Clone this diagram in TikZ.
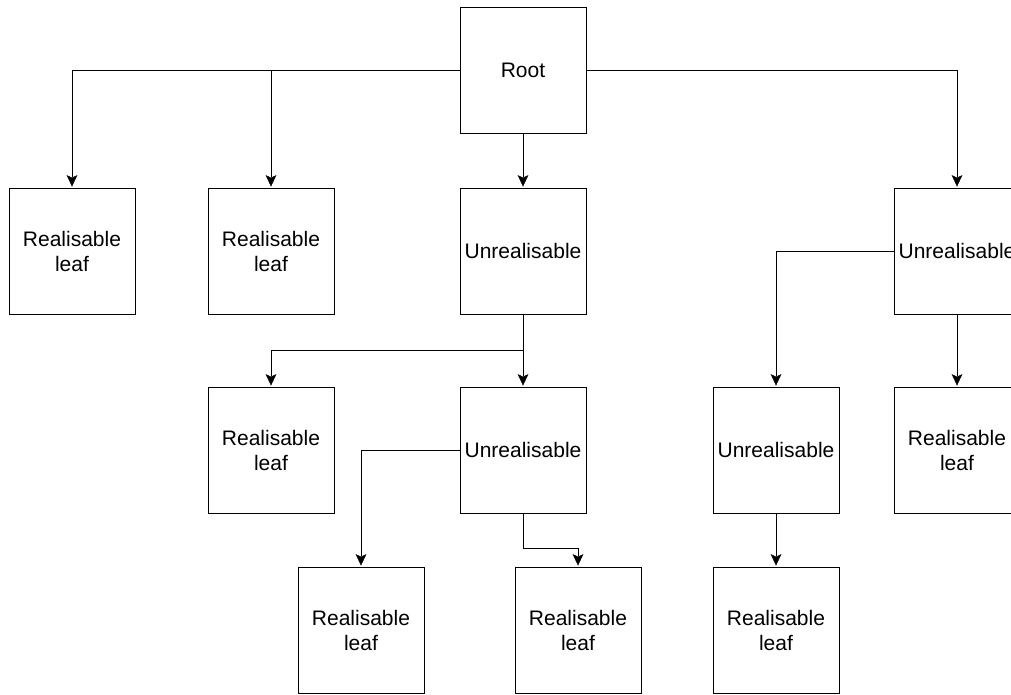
\documentclass[tikz,border=0pt]{standalone}
\usepackage{fontspec}
\setmainfont{Liberation Sans}
\usetikzlibrary{arrows.meta, positioning, calc}

\begin{document}
\begin{tikzpicture}
	\tikzset {->, >={Stealth[length=14pt, width=13pt, inset=3pt]}, line width=1.6pt,
		box/.style={draw, rectangle, minimum size=126pt, inner sep=2pt, outer sep=0pt, align=center, font=\fontsize{21}{25}\selectfont} }

	\useasboundingbox (0,0) rectangle (1011pt,-695pt);
	\clip (0,0) rectangle (1011pt,-695pt);

	\node[box] (root) at (523pt,-70pt) {Root};
	\node[box, below=55pt of root] (u1) {Unrealisable};
	\node[box, left=126pt of u1] (r2) {Realisable\\leaf};
	\node[box, left=73pt of r2] (r1) {Realisable\\leaf};
	\node[box, right=308pt of u1] (u2) {Unrealisable};

	\node[box, below=73pt of r2] (r3) {Realisable\\leaf};
	\node[box, below=73pt of u1] (u3) {Unrealisable};
	\node[box, right=127pt of u3] (u4) {Unrealisable};
	\node[box, below=73pt of u2] (r4) {Realisable\\leaf};

	\node[box, below left=54pt and 36pt of u3] (r5) {Realisable\\leaf};
	\node[box, below=54pt of u3, xshift=55pt] (r6) {Realisable\\leaf};
	\node[box, below=54pt of u4] (r7) {Realisable\\leaf};

	\coordinate (j1) at ($(u1.south)!0.5!(u3.north)$);
	\coordinate[below=35pt of u3.south] (j2);

	\draw (root.west) -| (r1.north);
	\draw (root.west) -| (r2.north);
	\draw (root.south) -- (u1.north);
	\draw (root.east) -| (u2.north);

	\draw (u1.south) -- (j1) -| (r3.north);
	\draw (j1) -- (u3.north);
	\draw (u2.west) -| (u4.north);
	\draw (u2.south) -- (r4.north);

	\draw (u3.west) -| (r5.north);
	\draw (u3.south) -- (j2) -| (r6.north);
	\draw (u4.south) -- (r7.north);
\end{tikzpicture}
\end{document}
